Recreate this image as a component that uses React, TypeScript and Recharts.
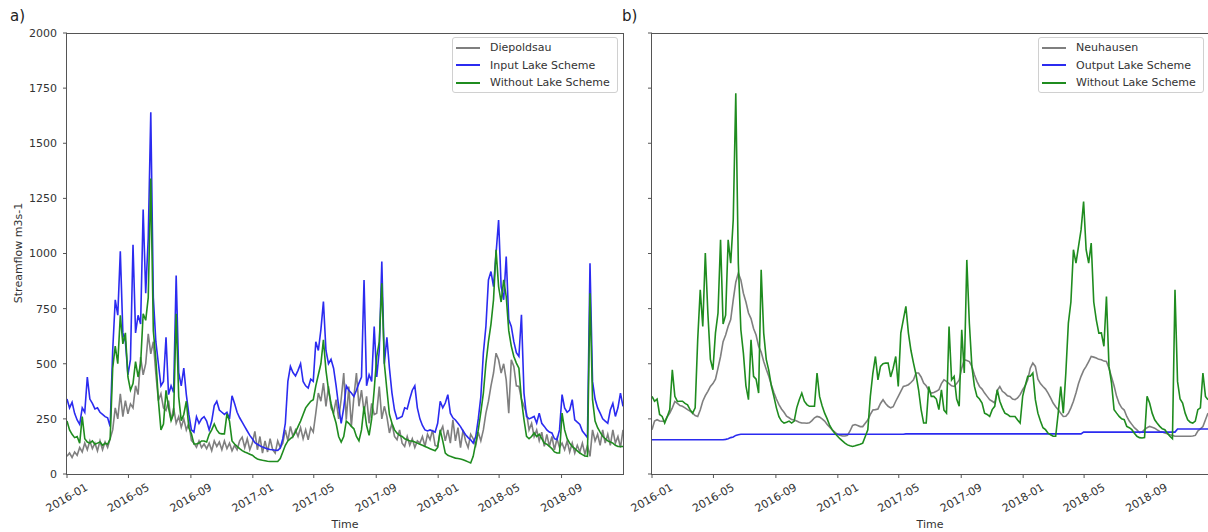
import { LineChart, Line, XAxis, YAxis } from "recharts";

// sampling grid: day offset from 2016-01-01, every 5 days up to 2018-12-31
const days = Array.from({ length: 220 }, (_, i) => i * 5);

const tickDays = [0, 121, 244, 366, 486, 609, 731, 851, 974];
const tickLabels = ["2016-01", "2016-05", "2016-09", "2017-01", "2017-05", "2017-09", "2018-01", "2018-05", "2018-09"];
const yTicks = [0, 250, 500, 750, 1000, 1250, 1500, 1750, 2000];

// panel a
const diepoldsau = [
  80, 95, 75, 100, 85, 120, 100, 140, 110, 150,
  115, 140, 105, 150, 110, 145, 120, 160, 200, 300,
  250, 364, 260, 333, 273, 318, 300, 400, 360, 530,
  450, 500, 636, 545, 600, 455, 333, 364, 300, 288,
  333, 242, 300, 230, 260, 212, 250, 200, 230, 152,
  140, 121, 150, 120, 136, 115, 140, 106, 150, 125,
  145, 110, 150, 115, 140, 105, 130, 110, 150, 167,
  120, 160, 110, 140, 193, 110, 170, 95, 150, 100,
  160, 110, 95, 150, 120, 140, 200, 150, 216, 170,
  200, 170, 210, 160, 200, 155, 210, 190, 276, 367,
  330, 412, 307, 397, 300, 276, 337, 250, 340, 458,
  246, 397, 216, 350, 458, 307, 380, 280, 352, 230,
  320, 270, 276, 397, 250, 307, 260, 186, 230, 170,
  155, 200, 140, 125, 170, 130, 160, 120, 150, 140,
  170, 125, 180, 156, 200, 130, 125, 190, 216, 150,
  200, 140, 246, 150, 210, 120, 200, 150, 120, 180,
  160, 130, 190, 150, 200, 276, 330, 400, 458, 548,
  518, 458, 500, 427, 276, 518, 488, 400, 397, 340,
  307, 276, 200, 230, 170, 200, 150, 190, 125, 180,
  125, 170, 110, 160, 120, 140, 110, 150, 100, 140,
  95, 130, 100, 140, 90, 130, 80, 200, 150, 180,
  130, 200, 140, 180, 130, 200, 140, 170, 120, 200,
];

const inputLake = [
  340, 300, 325, 275, 245, 225, 300, 280, 440, 340,
  320, 295, 300, 280, 270, 260, 255, 215, 560, 790,
  720, 1010, 640, 600, 450, 520, 1040, 640, 720, 680,
  1200, 820, 1070, 1640, 800, 600, 500, 400, 420, 620,
  360, 400, 370, 900, 460, 400, 480, 360, 270, 200,
  190, 260, 230, 250, 260, 240, 200, 240, 310, 330,
  290, 280, 270, 280, 250, 355, 320, 280, 255, 235,
  215, 195, 175, 160, 142, 135, 128, 122, 118, 114,
  111, 110, 108, 107, 118, 160, 230, 420, 488, 460,
  445, 470, 500, 420, 400, 390, 430, 420, 600, 560,
  654, 782, 560, 500, 520, 480, 400, 307, 230, 300,
  400, 380, 367, 352, 380, 412, 440, 880, 400, 450,
  420, 669, 440, 560, 964, 500, 620, 480, 367, 290,
  250, 255, 261, 300, 295, 340, 380, 400, 300, 250,
  220, 200, 195, 200, 195, 190, 230, 330, 300, 322,
  360, 276, 255, 245, 230, 215, 195, 178, 165, 155,
  140, 170, 250, 350, 548, 669, 880, 918, 850, 1000,
  1152, 850, 790, 986, 700, 669, 600, 550, 533, 722,
  367, 261, 250, 255, 261, 231, 276, 230, 216, 200,
  190, 186, 160, 156, 200, 360, 300, 280, 290, 337,
  246, 235, 225, 195, 180, 165, 956, 420, 340, 300,
  276, 250, 240, 230, 290, 320, 261, 300, 367, 307,
];

const withoutLakeA = [
  240, 200, 180, 165, 170, 140, 260, 160, 145, 140,
  150, 135, 140, 145, 130, 140, 135, 160, 480, 580,
  500, 720, 590, 640, 440, 380, 410, 510, 440, 500,
  727, 697, 800, 1340, 650, 520, 333, 200, 227, 379,
  300, 242, 273, 727, 350, 242, 270, 330, 210, 182,
  136, 136, 140, 150, 150, 145, 180, 200, 227, 200,
  185, 182, 182, 273, 240, 150, 136, 125, 115, 106,
  100, 95, 90, 85, 75, 68, 65, 62, 60, 58,
  57, 57, 57, 57, 70, 100, 130, 150, 160, 170,
  190, 215, 240, 270, 300, 315, 330, 337, 400, 450,
  500, 609, 470, 382, 320, 270, 230, 170, 145, 170,
  240, 230, 216, 205, 170, 150, 200, 307, 220, 175,
  250, 382, 533, 600, 865, 500, 382, 270, 230, 200,
  185, 175, 170, 160, 155, 150, 150, 145, 140, 135,
  130, 125, 120, 115, 110, 105, 120, 200, 150, 95,
  85, 80, 76, 72, 70, 68, 65, 60, 55, 50,
  80, 140, 200, 280, 367, 500, 600, 680, 790, 1017,
  850, 780, 880, 805, 650, 580, 533, 503, 480, 337,
  246, 171, 160, 170, 186, 170, 180, 160, 140, 135,
  125, 115, 100, 95, 95, 276, 200, 160, 140, 125,
  115, 105, 95, 88, 82, 80, 820, 337, 240, 210,
  190, 171, 160, 150, 145, 140, 130, 125, 125, 125,
];

// panel b
const neuhausen = [
  201, 240, 246, 240, 239, 239, 260, 276, 300, 329,
  320, 310, 307, 300, 292, 285, 276, 265, 261, 290,
  330, 355, 375, 397, 410, 430, 480, 533, 600, 630,
  670, 700, 790, 870, 911, 880, 820, 780, 730, 705,
  660, 630, 579, 553, 510, 475, 443, 405, 370, 340,
  315, 295, 280, 262, 255, 247, 245, 240, 235, 231,
  231, 230, 232, 242, 255, 261, 258, 250, 240, 225,
  212, 200, 190, 180, 176, 172, 172, 175, 195, 220,
  224, 220, 215, 215, 230, 245, 270, 290, 292, 295,
  320, 337, 320, 307, 300, 305, 330, 352, 375, 397,
  400, 405, 415, 427, 458, 458, 440, 412, 400, 380,
  367, 370, 375, 382, 410, 427, 420, 410, 400, 397,
  410, 427, 480, 518, 515, 510, 488, 450, 420, 397,
  385, 367, 352, 337, 330, 322, 380, 397, 375, 367,
  355, 352, 340, 337, 345, 360, 382, 400, 427, 480,
  503, 488, 430, 410, 397, 385, 367, 345, 322, 305,
  292, 275, 261, 262, 275, 300, 330, 367, 410, 443,
  470, 488, 510, 533, 530, 526, 520, 518, 512, 510,
  480, 440, 400, 352, 320, 300, 290, 261, 240, 225,
  210, 200, 188, 190, 201, 210, 216, 212, 208, 200,
  193, 190, 186, 182, 178, 175, 171, 171, 171, 171,
  171, 171, 171, 172, 175, 195, 205, 215, 246, 276,
];

const outputLake = [
  155, 155, 155, 155, 155, 155, 155, 155, 155, 155,
  155, 155, 155, 155, 155, 155, 155, 155, 155, 155,
  155, 155, 155, 155, 155, 155, 155, 155, 155, 157,
  160, 165, 168, 175, 178, 180, 180, 180, 180, 180,
  180, 180, 180, 180, 180, 180, 180, 180, 180, 180,
  180, 180, 180, 180, 180, 180, 180, 180, 180, 180,
  180, 180, 180, 180, 180, 180, 180, 180, 180, 180,
  180, 180, 180, 180, 180, 180, 180, 180, 180, 180,
  180, 180, 180, 180, 180, 180, 180, 180, 180, 180,
  180, 180, 180, 180, 180, 180, 180, 180, 180, 180,
  182, 182, 182, 182, 182, 182, 182, 182, 182, 182,
  182, 182, 182, 182, 182, 182, 182, 182, 182, 182,
  182, 182, 182, 182, 182, 182, 182, 182, 182, 182,
  182, 182, 182, 182, 182, 182, 182, 182, 182, 182,
  182, 182, 182, 182, 182, 182, 182, 182, 182, 182,
  182, 182, 182, 182, 182, 182, 182, 182, 182, 182,
  182, 182, 182, 182, 182, 182, 182, 182, 182, 182,
  190, 190, 190, 190, 190, 190, 190, 190, 190, 190,
  190, 190, 190, 190, 190, 190, 190, 190, 190, 190,
  190, 190, 190, 190, 190, 190, 190, 190, 190, 190,
  190, 190, 190, 190, 190, 190, 190, 204, 204, 204,
  204, 204, 204, 204, 204, 204, 204, 204, 204, 204,
];

const withoutLakeB = [
  352, 330, 340, 270, 261, 231, 260, 292, 473, 352,
  329, 330, 330, 320, 314, 292, 276, 300, 609, 835,
  669, 1002, 730, 520, 473, 640, 730, 1062, 680, 720,
  1062, 956, 1153, 1727, 956, 654, 548, 400, 337, 609,
  443, 430, 367, 926, 639, 520, 470, 400, 352, 300,
  260, 240, 231, 235, 240, 231, 240, 300, 337, 367,
  330, 315, 307, 307, 307, 458, 352, 310, 276, 250,
  220, 200, 185, 172, 160, 150, 140, 132, 128, 125,
  128, 132, 135, 140, 170, 200, 352, 458, 533, 427,
  488, 500, 503, 503, 440, 480, 533, 397, 639, 700,
  760, 639, 560, 503, 450, 382, 292, 231, 231, 397,
  352, 352, 340, 292, 382, 290, 276, 669, 427, 443,
  340, 307, 654, 458, 971, 684, 488, 397, 352, 340,
  322, 276, 270, 261, 292, 307, 382, 330, 300, 276,
  270, 261, 261, 261, 245, 231, 352, 400, 443, 443,
  458, 337, 276, 240, 210, 201, 185, 178, 171, 171,
  276, 397, 276, 458, 684, 780, 1017, 956, 1032, 1107,
  1236, 1017, 956, 1047, 780, 699, 639, 640, 579, 805,
  488, 412, 292, 276, 261, 250, 246, 216, 210, 201,
  185, 171, 165, 163, 165, 352, 322, 276, 246, 230,
  216, 205, 201, 185, 171, 160, 835, 420, 340, 322,
  276, 246, 235, 231, 240, 292, 300, 458, 352, 337,
];

const rows = days.map((day, i) => ({
  day,
  diepoldsau: diepoldsau[i],
  inputLake: inputLake[i],
  withoutA: withoutLakeA[i],
  neuhausen: neuhausen[i],
  outputLake: outputLake[i],
  withoutB: withoutLakeB[i],
}));

const GREY = "#7f7f7f";
const BLUE = "#2b2bf0";
const GREEN = "#1f8c1f";
const SPINE = "#555";
const TEXT = "#333";
const FONT = "'DejaVu Sans', sans-serif";
const LW = 1.6;

const DateTick = (props: any) => {
  const { x, payload } = props;
  const i = tickDays.indexOf(payload.value);
  const cy = 498;
  return (
    <text
      x={x}
      y={cy}
      transform={`rotate(-30, ${x}, ${cy})`}
      textAnchor="middle"
      dominantBaseline="central"
      fontSize={11}
      fill={TEXT}
      fontFamily={FONT}
    >
      {i >= 0 ? tickLabels[i] : ""}
    </text>
  );
};

const EmptyTick = () => <g />;

const LegendBox = ({ left, items }: { left: number; items: { name: string; color: string }[] }) => (
  <div
    style={{
      position: "absolute",
      left,
      top: 37,
      width: 166,
      height: 56,
      border: "1px solid #d0d0d0",
      borderRadius: 3,
      background: "rgba(255,255,255,0.85)",
      boxSizing: "border-box",
      paddingTop: 1,
    }}
  >
    {items.map((it) => (
      <div key={it.name} style={{ display: "flex", alignItems: "center", height: 17.5 }}>
        <div style={{ width: 24, height: 2, background: it.color, marginLeft: 3, marginRight: 10 }} />
        <span style={{ fontSize: 11, color: TEXT, fontFamily: FONT, whiteSpace: "nowrap" }}>{it.name}</span>
      </div>
    ))}
  </div>
);

const Frame = ({ left }: { left: number }) => (
  <div
    style={{
      position: "absolute",
      left,
      top: 33,
      width: 558,
      height: 442,
      border: `1px solid ${SPINE}`,
      boxSizing: "border-box",
      pointerEvents: "none",
    }}
  />
);

const xAxisProps = {
  dataKey: "day",
  type: "number" as const,
  domain: [0, 1095],
  ticks: tickDays,
  interval: 0 as const,
  axisLine: false,
  tickSize: 4,
  tickLine: { stroke: SPINE },
  tick: DateTick,
  height: 58,
};

export default function App() {
  return (
    <div
      style={{
        position: "fixed",
        left: 0,
        top: 0,
        width: 1208,
        height: 532,
        background: "#fff",
        fontFamily: FONT,
        overflow: "hidden",
      }}
    >
      <div style={{ position: "absolute", left: 0, top: 0 }}>
        <LineChart width={630} height={532} data={rows} margin={{ top: 33, right: 7, bottom: 0, left: 0 }}>
          <XAxis {...xAxisProps} />
          <YAxis
            domain={[0, 2000]}
            ticks={yTicks}
            width={67}
            axisLine={false}
            tickSize={4}
            tickMargin={6}
            tickLine={{ stroke: SPINE }}
            tick={{ fontSize: 11, fill: TEXT, fontFamily: FONT }}
          />
          <Line dataKey="diepoldsau" stroke={GREY} strokeWidth={LW} dot={false} isAnimationActive={false} />
          <Line dataKey="inputLake" stroke={BLUE} strokeWidth={LW} dot={false} isAnimationActive={false} />
          <Line dataKey="withoutA" stroke={GREEN} strokeWidth={LW} dot={false} isAnimationActive={false} />
        </LineChart>
      </div>
      <div style={{ position: "absolute", left: 630, top: 0 }}>
        <LineChart width={578} height={532} data={rows} margin={{ top: 33, right: 0, bottom: 0, left: 0 }}>
          <XAxis {...xAxisProps} />
          <YAxis
            domain={[0, 2000]}
            ticks={yTicks}
            width={22}
            axisLine={false}
            tickSize={4}
            tickLine={{ stroke: SPINE }}
            tick={EmptyTick}
          />
          <Line dataKey="neuhausen" stroke={GREY} strokeWidth={LW} dot={false} isAnimationActive={false} />
          <Line dataKey="outputLake" stroke={BLUE} strokeWidth={LW} dot={false} isAnimationActive={false} />
          <Line dataKey="withoutB" stroke={GREEN} strokeWidth={LW} dot={false} isAnimationActive={false} />
        </LineChart>
      </div>

      <Frame left={66} />
      <Frame left={651} />

      <LegendBox
        left={452}
        items={[
          { name: "Diepoldsau", color: GREY },
          { name: "Input Lake Scheme", color: BLUE },
          { name: "Without Lake Scheme", color: GREEN },
        ]}
      />
      <LegendBox
        left={1038}
        items={[
          { name: "Neuhausen", color: GREY },
          { name: "Output Lake Scheme", color: BLUE },
          { name: "Without Lake Scheme", color: GREEN },
        ]}
      />

      <div style={{ position: "absolute", left: 10, top: 7, fontSize: 15, color: "#222" }}>a)</div>
      <div style={{ position: "absolute", left: 622, top: 7, fontSize: 15, color: "#222" }}>b)</div>
      <div
        style={{
          position: "absolute",
          left: 18,
          top: 253,
          transform: "translate(-50%, -50%) rotate(-90deg)",
          fontSize: 11,
          color: TEXT,
          whiteSpace: "nowrap",
        }}
      >
        Streamflow m3s-1
      </div>
      <div style={{ position: "absolute", left: 345, top: 524, transform: "translate(-50%, -50%)", fontSize: 11, color: TEXT }}>
        Time
      </div>
      <div style={{ position: "absolute", left: 930, top: 524, transform: "translate(-50%, -50%)", fontSize: 11, color: TEXT }}>
        Time
      </div>
    </div>
  );
}
